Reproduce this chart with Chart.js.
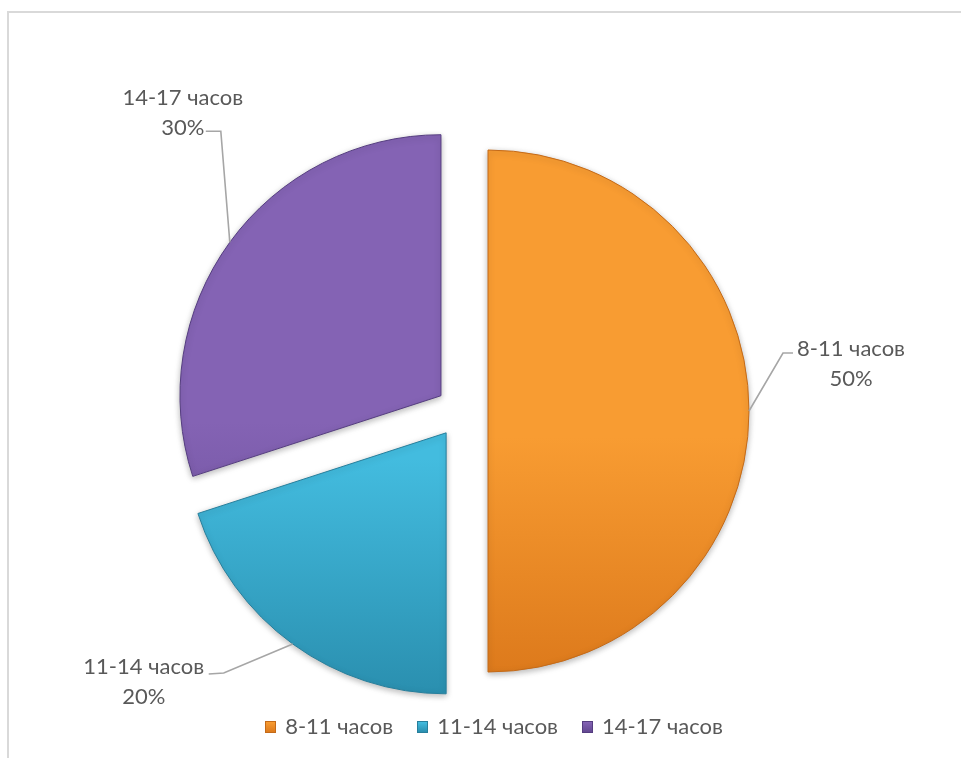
<!DOCTYPE html>
<html>
<head>
    <title>Распределение по времени</title>
    <script src="https://cdn.jsdelivr.net/npm/chart.js@4.4.1/dist/chart.umd.min.js"></script>
    <style>
        body {
            margin: 0;
            background: #FFFFFF;
            font-family: Lato, "Open Sans", sans-serif;
        }
        #wrap {
            position: relative;
            width: 961px;
            height: 758px;
            overflow: hidden;
        }
        #frame {
            position: absolute;
            left: 7px;
            top: 11px;
            width: 1000px;
            height: 800px;
            border-left: 2px solid #D9D9D9;
            border-top: 2px solid #D9D9D9;
        }
        #chart {
            position: absolute;
            left: 0;
            top: 0;
        }
        #legend {
            position: absolute;
            left: 0;
            width: 988px;
            top: 712px;
            text-align: center;
            font-size: 22px;
            color: #595959;
        }
        .item {
            display: inline-block;
            margin: 0 12px;
        }
        .box {
            display: inline-block;
            width: 9px;
            height: 10px;
            margin-right: 9px;
            vertical-align: 1px;
        }
    </style>
</head>
<body>
<div id="wrap">
    <div id="frame"></div>
    <canvas id="chart" width="961" height="758"></canvas>
    <div id="legend"></div>
</div>

<script type="text/javascript">
    // data
    const categories = ['8-11 часов', '11-14 часов', '14-17 часов'];
    const shares = [50, 20, 30];

    // styling
    const topColors = ['#F89C32', '#43BCDF', '#8463B4'];
    const bottomColors = ['#DD7A1C', '#2A8FAF', '#634891'];
    const edgeColors = ['#C46A18', '#277F9C', '#553D80'];
    const explode = [26, 27, 26];   // pixels each slice is pulled out
    const pieRadius = 261;

    // leader line / text placement relative to the slice edge
    const labelLayout = [
        {elbow: [34, -58], end: [44, -58], text: [102, -62]},
        {elbow: [-69, 29], end: [-84, 30], text: [-149, 23]},
        {elbow: [-9, -111], end: [-24, -111], text: [-47, -144]}
    ];

    const total = shares.reduce((a, b) => a + b, 0);

    // pie where every slice is shifted out along its middle angle,
    // without the radius growth the built-in offset option adds
    class ExplodedPie extends Chart.PieController {
        draw() {
            const ctx = this.chart.ctx;
            const area = this.chart.chartArea;
            this._cachedMeta.data.forEach((arc, i) => {
                const mid = (arc.startAngle + arc.endAngle) / 2;
                ctx.save();
                ctx.translate(Math.cos(mid) * explode[i], Math.sin(mid) * explode[i]);
                arc.draw(ctx, area);
                ctx.restore();
            });
        }
    }
    ExplodedPie.id = 'explodedPie';
    ExplodedPie.defaults = Chart.PieController.defaults;
    ExplodedPie.overrides = Chart.PieController.overrides;
    Chart.register(ExplodedPie);

    function sliceFill(ctx) {
        const chart = ctx.chart;
        const area = chart.chartArea;
        const i = ctx.dataIndex;
        if (!area) {
            return topColors[i];
        }
        const cy = (area.top + area.bottom) / 2;
        const g = chart.ctx.createLinearGradient(0, cy - pieRadius, 0, cy + pieRadius);
        g.addColorStop(0, topColors[i]);
        g.addColorStop(0.55, topColors[i]);
        g.addColorStop(1, bottomColors[i]);
        return g;
    }

    const sliceLabels = {
        id: 'sliceLabels',
        beforeDatasetsDraw(chart) {
            const ctx = chart.ctx;
            ctx.save();
            ctx.shadowColor = 'rgba(0, 0, 0, 0.28)';
            ctx.shadowBlur = 6;
            ctx.shadowOffsetY = 2;
        },
        afterDatasetsDraw(chart) {
            const ctx = chart.ctx;
            ctx.restore();
            const meta = chart.getDatasetMeta(0);
            meta.data.forEach((arc, i) => {
                const p = arc.getProps(['x', 'y', 'startAngle', 'endAngle', 'outerRadius'], true);
                const mid = (p.startAngle + p.endAngle) / 2;
                const dist = explode[i] + p.outerRadius;
                const ax = p.x + Math.cos(mid) * dist;
                const ay = p.y + Math.sin(mid) * dist;
                const lay = labelLayout[i];

                ctx.save();
                ctx.strokeStyle = '#A6A6A6';
                ctx.lineWidth = 1.6;
                ctx.beginPath();
                ctx.moveTo(ax, ay);
                ctx.lineTo(ax + lay.elbow[0], ay + lay.elbow[1]);
                ctx.lineTo(ax + lay.end[0], ay + lay.end[1]);
                ctx.stroke();

                ctx.fillStyle = '#595959';
                ctx.font = '22px Lato, "Open Sans", sans-serif';
                ctx.textAlign = 'center';
                ctx.textBaseline = 'middle';
                const tx = ax + lay.text[0];
                const ty = ay + lay.text[1];
                ctx.fillText(categories[i], tx, ty);
                ctx.fillText(Math.round(shares[i] / total * 100) + '%', tx, ty + 30);
                ctx.restore();
            });
        }
    };

    let chart = new Chart(document.getElementById('chart').getContext('2d'), {
        type: 'explodedPie',
        data: {
            labels: categories,
            datasets: [{
                data: shares,
                backgroundColor: sliceFill,
                borderColor: edgeColors,
                borderWidth: 1,
                clip: false
            }]
        },
        options: {
            responsive: false,
            animation: false,
            radius: pieRadius,
            layout: {
                padding: {left: 0, right: 37, top: 64, bottom: 0}
            },
            plugins: {
                legend: {display: false},
                tooltip: {enabled: false}
            }
        },
        plugins: [sliceLabels]
    });

    // legend below the pie
    const legend = document.getElementById('legend');
    categories.forEach((name, i) => {
        const item = document.createElement('span');
        item.className = 'item';
        const box = document.createElement('span');
        box.className = 'box';
        box.style.background = 'linear-gradient(' + topColors[i] + ', ' + bottomColors[i] + ')';
        box.style.border = '1px solid ' + edgeColors[i];
        item.appendChild(box);
        item.appendChild(document.createTextNode(name));
        legend.appendChild(item);
    });
</script>

</body>
</html>
